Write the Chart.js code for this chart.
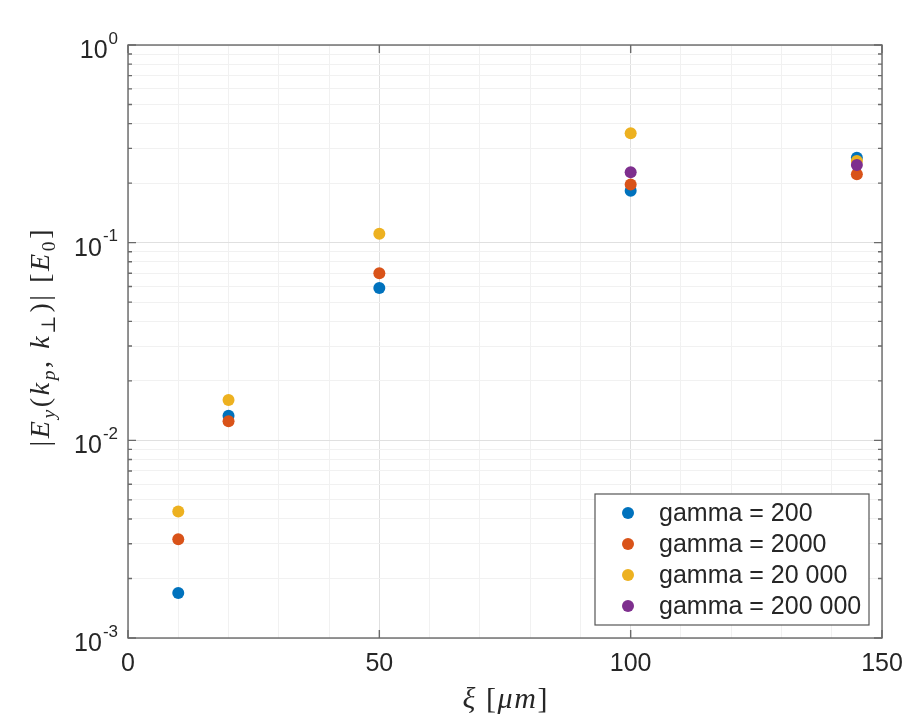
<!DOCTYPE html>
<html>
<head>
<meta charset="utf-8">
<script src="https://cdn.jsdelivr.net/npm/chart.js@4.4.0/dist/chart.umd.min.js"></script>
<style>
html,body{margin:0;padding:0;background:#fff;}
canvas{display:block;}
</style>
</head>
<body>
<canvas id="c" width="906" height="719"></canvas>
<script>
// ---- data ----
const xi = [10, 20, 50, 100, 145];
const gamma200    = [0.00169, 0.0133, 0.059, 0.183, 0.269];
const gamma2000   = [0.00316, 0.0125, 0.070, 0.197, 0.222];
const gamma20000  = [0.00436, 0.0160, 0.111, 0.358, 0.259];
const gamma200000 = [null,    null,   null,  0.227, 0.247];
const seriesLabels = ['gamma = 200', 'gamma = 2000', 'gamma = 20 000', 'gamma = 200 000'];
const seriesColors = ['#0072BD', '#D95319', '#EDB120', '#7E2F8E'];
const xTickLabels = ['0', '50', '100', '150'];
const xTickValues = [0, 50, 100, 150];
const yTickExponents = ['0', '-1', '-2', '-3'];
const yTickValues = [1, 0.1, 0.01, 0.001];

function pts(vals){ return xi.map((x,i)=>({x:x, y:vals[i]})).filter(p=>p.y!==null); }
const allSeries = [gamma200, gamma2000, gamma20000, gamma200000];

const AXIS = '#6a6a6a';
const TXT = '#262626';
const SANS = '"Liberation Sans", Arial, Helvetica, sans-serif';
const SERIF = '"Liberation Serif", "DejaVu Serif", serif';

function isMajorLog(v){ const l = Math.log10(v); return Math.abs(l - Math.round(l)) < 1e-9; }

const decor = {
  id: 'decor',
  afterDatasetsDraw(chart){
    const ctx = chart.ctx, a = chart.chartArea;
    const xs = chart.scales.x, ys = chart.scales.y;
    ctx.save();
    // box
    ctx.strokeStyle = AXIS; ctx.lineWidth = 1.4;
    ctx.strokeRect(a.left, a.top, a.right - a.left, a.bottom - a.top);
    // y ticks (major and minor) on both sides
    ys.ticks.forEach(t => {
      const y = ys.getPixelForValue(t.value);
      const len = isMajorLog(t.value) ? 8 : 4;
      ctx.beginPath();
      ctx.moveTo(a.left, y); ctx.lineTo(a.left + len, y);
      ctx.moveTo(a.right, y); ctx.lineTo(a.right - len, y);
      ctx.stroke();
    });
    // x major ticks top and bottom
    xTickValues.forEach(v => {
      const x = xs.getPixelForValue(v);
      ctx.beginPath();
      ctx.moveTo(x, a.bottom); ctx.lineTo(x, a.bottom - 8);
      ctx.moveTo(x, a.top); ctx.lineTo(x, a.top + 8);
      ctx.stroke();
    });
    // x tick labels
    ctx.fillStyle = TXT;
    ctx.font = '25px ' + SANS;
    ctx.textAlign = 'center'; ctx.textBaseline = 'middle';
    xTickValues.forEach((v,i) => {
      ctx.fillText(xTickLabels[i], xs.getPixelForValue(v), a.bottom + 26);
    });
    // y tick labels 10^n
    yTickValues.forEach((v,i) => {
      const y = ys.getPixelForValue(v);
      ctx.font = '25px ' + SANS;
      const wb = ctx.measureText('10').width;
      ctx.font = '17px ' + SANS;
      const ws = ctx.measureText(yTickExponents[i]).width;
      const right = a.left - 10;
      const x0 = right - ws - wb - 1;
      ctx.textAlign = 'left';
      ctx.font = '25px ' + SANS;
      ctx.fillText('10', x0, y + 6);
      ctx.font = '17px ' + SANS;
      ctx.fillText(yTickExponents[i], x0 + wb + 1, y - 6);
    });
    // x title: xi [mu m]
    drawRich(ctx, [
      {t:'\u03BE', it:true}, {t:' [', it:false}, {t:'\u03BCm', it:true}, {t:']', it:false}
    ], 30, 85, 505, 700, 0);
    // y title
    drawRich(ctx, [
      {t:'|', it:false}, {t:'E', it:true}, {t:'y', it:true, sub:true}, {t:'(', it:false},
      {t:'k', it:true}, {t:'p', it:true, sub:true}, {t:', ', it:false}, {t:'k', it:true},
      {t:'\u22A5', it:false, sub:true}, {t:')|', it:false}, {t:' [', it:false},
      {t:'E', it:true}, {t:'0', it:false, sub:true}, {t:']', it:false}
    ], 28, 217, 42, 338, -Math.PI/2);
    // legend
    const L = {l:595, t:494, r:869, b:625};
    ctx.fillStyle = '#fff';
    ctx.fillRect(L.l, L.t, L.r - L.l, L.b - L.t);
    ctx.strokeStyle = '#555'; ctx.lineWidth = 1.2;
    ctx.strokeRect(L.l, L.t, L.r - L.l, L.b - L.t);
    const rows = [513, 544, 575, 606];
    seriesLabels.forEach((lab,i) => {
      ctx.fillStyle = seriesColors[i];
      ctx.beginPath(); ctx.arc(628, rows[i], 6, 0, Math.PI*2); ctx.fill();
      ctx.fillStyle = TXT;
      ctx.font = '25px ' + SANS;
      ctx.textAlign = 'left'; ctx.textBaseline = 'middle';
      ctx.fillText(lab, 659, rows[i] + 1);
    });
    ctx.restore();
  }
};

// draws math-like text at a fixed size, spreading extra spacing so total length equals targetLen
function drawRich(ctx, parts, size, targetLen, cx, cy, rot){
  const fontOf = p => (p.it ? 'italic ' : '') + (p.sub ? (size*0.7).toFixed(1) : size.toFixed(1)) + 'px ' + SERIF;
  const glyphs = [];
  parts.forEach(p => { Array.from(p.t).forEach(ch => glyphs.push({t:ch, it:p.it, sub:p.sub})); });
  let natural = 0;
  glyphs.forEach(g => { ctx.font = fontOf(g); g.w = ctx.measureText(g.t).width; natural += g.w; });
  const gap = Math.max(0, (targetLen - natural) / (glyphs.length - 1));
  const total = natural + gap * (glyphs.length - 1);
  ctx.save();
  ctx.translate(cx, cy); ctx.rotate(rot);
  ctx.fillStyle = TXT; ctx.textAlign = 'left'; ctx.textBaseline = 'middle';
  let x = -total/2;
  glyphs.forEach(g => {
    ctx.font = fontOf(g);
    ctx.fillText(g.t, x, g.sub ? size*0.28 : 0);
    x += g.w + gap;
  });
  ctx.restore();
}

new Chart(document.getElementById('c'), {
  type: 'scatter',
  data: {
    datasets: allSeries.map((s,i) => ({
      label: seriesLabels[i],
      data: pts(s),
      backgroundColor: seriesColors[i],
      borderWidth: 0,
      pointRadius: 6,
      pointHoverRadius: 6,
      order: 4 - i
    }))
  },
  options: {
    responsive: false,
    animation: false,
    devicePixelRatio: 1,
    layout: { padding: { left: 128, top: 45, right: 24, bottom: 81 } },
    plugins: { legend: { display: false }, tooltip: { enabled: false } },
    scales: {
      x: {
        type: 'linear', min: 0, max: 150,
        afterBuildTicks: sc => { const t=[]; for(let v=0; v<=150; v+=10) t.push({value:v}); sc.ticks = t; },
        ticks: { display: false },
        grid: {
          drawTicks: false,
          color: c => (c.tick && c.tick.value % 50 === 0) ? '#e0e0e0' : '#f1f1f1',
          lineWidth: 1
        },
        border: { display: false }
      },
      y: {
        type: 'logarithmic', min: 0.001, max: 1,
        afterBuildTicks: sc => {
          const t=[];
          for (let e=-3; e<0; e++) for (let m=1; m<10; m++) t.push({value: m*Math.pow(10,e)});
          t.push({value:1});
          sc.ticks = t;
        },
        ticks: { display: false },
        grid: {
          drawTicks: false,
          color: c => (c.tick && isMajorLog(c.tick.value)) ? '#e0e0e0' : '#f1f1f1',
          lineWidth: 1
        },
        border: { display: false }
      }
    }
  },
  plugins: [decor]
});
</script>
</body>
</html>
